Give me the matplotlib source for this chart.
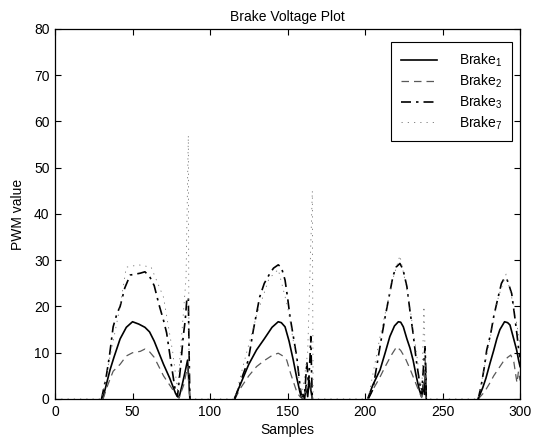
import numpy as np
import matplotlib
matplotlib.use('Agg')
import matplotlib.pyplot as plt

nan = np.nan

# brake channel PWM output per sample, nan breaks between braking events
brake1_x = [31, 33, 35.5, 38, 42, 46, 50, 54, 58, 61, 64, 67, 70, 74, 78, 80, 82, 84, 85.5, 86.5, 87, nan,
            116, 120, 125, 130, 135, 140, 144, 146, 148.4, 151, 153.7, 156, 158, 159, 160, 161, 162, 163, 164, 165, 166, nan,
            202, 205, 209.7, 213, 216, 219, 221.5, 223, 224.7, 227, 229, 231, 233, 235, 236.5, 237.5, 238.3, 239, 239.5, nan,
            273, 276, 278, 280.6, 283, 285, 287, 290, 292, 293.5, 295.5, 297.8, 299, 300]
brake1_y = [0.3, 3, 6.3, 9, 13, 15.5, 16.7, 16.2, 15.5, 14.5, 12.5, 10, 7.5, 4.5, 1, 0.3, 3, 6, 8.4, 3, 0, nan,
            0.3, 3.5, 7.5, 10.6, 13, 15.5, 16.7, 16.5, 15.6, 12.5, 8.4, 4.5, 1.5, 0.3, 1, 0, 3, 0.5, 4, 2, 0, nan,
            0.3, 3, 6.3, 10, 13.5, 15.8, 16.7, 16.6, 15.6, 13, 11, 8.4, 5, 2, 0.5, 3, 1, 6, 0, nan,
            0, 2.5, 4.5, 7.7, 10.5, 13, 15, 16.7, 16.5, 16, 13.5, 10.6, 8.5, 7]

brake2_x = [31, 34, 37.5, 42, 46, 50, 55, 58, 61, 64, 67, 70, 74, 78, 80, 83, 85.5, 87, nan,
            116, 120, 125, 130, 135, 140, 144, 147, 149.5, 152, 154, 156, 158, 160, 162, 164, 165, 166, nan,
            202, 205, 209, 213, 217, 220.4, 223, 226, 229, 232, 235, 236.5, 238, 239, 239.5, nan,
            273, 277, 280.6, 283, 286, 289, 292, 294, 296, 298, 299, 300]
brake2_y = [0, 3, 6, 7.5, 9.3, 10, 10.3, 10.8, 10.2, 9, 7, 5, 3, 1, 0.2, 3, 7, 0, nan,
            0, 2.5, 5, 7, 8.3, 9.4, 9.9, 9.3, 8.4, 5.5, 3.5, 1.5, 0.5, 0, 2, 5, 3, 0, nan,
            0, 2, 4.3, 7, 9.5, 11.3, 10.5, 8.8, 6.5, 4, 1.5, 0.3, 4, 9, 0, nan,
            0, 1.5, 3.5, 5, 6.5, 8, 9, 9.5, 8, 3.5, 6, 4]

brake3_x = [30, 33, 35, 37.5, 40, 42, 45, 48.5, 52, 55, 58, 61, 64, 67, 70, 72, 75, 77.5, 79, 81, 82.7, 84, 85, 86, 86.5, 87, nan,
            116, 119, 121, 124.7, 128, 132, 135, 138.7, 141, 144, 146, 148.4, 150, 151.6, 154, 156, 158, 159, 161, 162.5, 163.5, 164.5, 165, 165.5, 166, nan,
            202, 205, 208, 210.5, 213, 216, 218, 220, 222.5, 224.5, 227, 229, 231, 233, 235, 236.5, 237.5, 238.7, 239.3, 239.5, nan,
            273, 275, 277, 278.5, 281, 283, 285.5, 288, 290, 291.4, 292.5, 294.6, 296.5, 298, 299, 300]
brake3_y = [0, 4.8, 9, 15.6, 18.5, 20, 24, 26.8, 27, 27.2, 27.5, 26.5, 24.5, 20.5, 17, 14.3, 7.5, 2, 0.5, 7, 13.5, 17, 21.4, 22, 10, 0, nan,
            0, 3, 5, 8.4, 15, 22, 25, 27.2, 28.3, 29, 28.5, 25.7, 22, 17.8, 13, 9, 3, 0.5, 1, 8, 3, 9, 13.5, 6, 0, nan,
            0, 2, 8, 13, 17.8, 23, 26.5, 28.5, 29.3, 28, 24.3, 19, 14.2, 8.5, 4, 1, 6, 11.3, 5, 0, nan,
            0, 3, 7, 10.6, 14, 17.8, 21.5, 25, 26.2, 26, 25, 22.8, 18, 14, 11, 9]

brake7_x = [0, 30, 36, 42, 46, 54, 62, 70, 76, 79, 82, 84.5, 86, 86.5,
            116, 122, 130, 138, 144, 150, 156, 159, 163, 166, 166.5,
            202, 210, 218, 222.5, 228, 234, 236.5, 238, 239.5,
            273, 280, 286, 291, 296, 300]
brake7_y = [0, 0, 10, 20, 28.5, 29, 28.5, 22, 10, 2, 15, 26, 57, 0,
            0, 8, 18, 26, 28, 20, 8, 0, 10, 45, 0,
            0, 14, 26, 31, 22, 8, 0, 20, 0,
            0, 12, 22, 27, 20, 12]

plt.rcParams['font.family'] = ['Liberation Sans', 'DejaVu Sans']
plt.rcParams['mathtext.fontset'] = 'custom'
plt.rcParams['mathtext.rm'] = 'Liberation Sans'
plt.rcParams['mathtext.default'] = 'regular'

fig = plt.figure(figsize=(5.42, 4.45), dpi=100)
ax = fig.add_axes([0.1015, 0.1034, 0.858, 0.8315])

ax.plot(brake1_x, brake1_y, color='k', ls='-', lw=1.2, label='Brake$_1$')
ax.plot(brake2_x, brake2_y, color='0.35', ls=(0, (6, 4)), lw=0.9, label='Brake$_2$')
ax.plot(brake3_x, brake3_y, color='k', ls=(0, (6, 3, 1.5, 3)), lw=1.2, label='Brake$_3$')
ax.plot(brake7_x, brake7_y, color='0.45', ls=(0, (1.5, 6)), lw=0.6, label='Brake$_7$')

ax.set_xlim(0, 300)
ax.set_ylim(0, 80)
ax.set_xticks(np.arange(0, 301, 50))
ax.set_yticks(np.arange(0, 81, 10))
ax.tick_params(direction='in', top=True, right=True, length=4, width=0.8,
               labelsize=10, pad=4)
for sp in ax.spines.values():
    sp.set_linewidth(0.9)

ax.set_title('Brake Voltage Plot', fontsize=10, pad=6)
ax.set_xlabel('Samples', fontsize=10, labelpad=3)
ax.set_ylabel('PWM value', fontsize=10, labelpad=6)

leg = ax.legend(loc='upper right', bbox_to_anchor=(0.983, 0.965), fancybox=False,
                edgecolor='k', framealpha=1, fontsize=10, handlelength=2.6,
                handletextpad=1.6, labelspacing=0.25, borderpad=0.7,
                borderaxespad=0)
leg.get_frame().set_linewidth(0.8)

fig.savefig('out.png', dpi=100)
